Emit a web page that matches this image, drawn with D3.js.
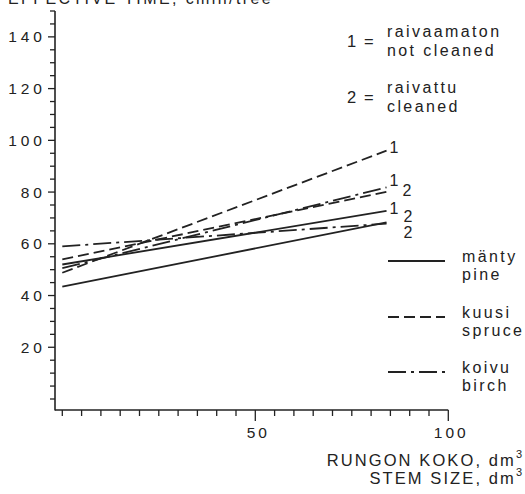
<!DOCTYPE html>
<html>
<head>
<meta charset="utf-8">
<script src="https://cdn.jsdelivr.net/npm/d3@7"></script>
<style>
  html, body { margin: 0; padding: 0; background: #fff; }
  svg { display: block; }
  text { font-family: "Liberation Sans", Arial, Helvetica, sans-serif; fill: #222; }
</style>
</head>
<body>
<svg id="chart" width="525" height="494"></svg>
<script>
// ---- data ----
const stemSize = [0, 84];                 // dm3, regression line extent
const pineNotCleaned   = [52.0, 72.7];
const pineCleaned      = [43.4, 68.3];
const spruceNotCleaned = [48.8, 96.0];
const spruceCleaned    = [54.0, 80.1];
const birchNotCleaned  = [50.6, 81.8];
const birchCleaned     = [59.0, 67.8];
const xTickLabels = [50, 100];
const yTickLabels = [20, 40, 60, 80, 100, 120, 140];
const speciesFi = ["mänty", "kuusi", "koivu"];
const speciesEn = ["pine", "spruce", "birch"];
const treatmentFi = ["raivaamaton", "raivattu"];
const treatmentEn = ["not cleaned", "cleaned"];
const yTitle = "EFFECTIVE TIME, cmin/tree";
const xTitleFi = "RUNGON KOKO, dm";
const xTitleEn = "STEM SIZE, dm";

// ---- styles ----
const ink = "#222";
const dashBySpecies = { "mänty": null, "kuusi": "11,5", "koivu": "18,5,3,5" };
const series = [
  { sp: "kuusi", tr: "1", vals: spruceNotCleaned, lx: 3,  dy: 2 },
  { sp: "koivu", tr: "1", vals: birchNotCleaned,  lx: 3,  dy: -1 },
  { sp: "kuusi", tr: "2", vals: spruceCleaned,    lx: 16, dy: 4 },
  { sp: "mänty", tr: "1", vals: pineNotCleaned,   lx: 3,  dy: 3 },
  { sp: "mänty", tr: "2", vals: pineCleaned,      lx: 17, dy: 0 },
  { sp: "koivu", tr: "2", vals: birchCleaned,     lx: 17, dy: 14 }
];

const svg = d3.select("#chart");
const x = d3.scaleLinear().domain([0, 100]).range([62.3, 448.3]);
const y = d3.scaleLinear().domain([0, 150]).range([399, 11]);

// ---- axes ----
const axisG = svg.append("g").attr("stroke", ink).attr("fill", "none");
axisG.append("line").attr("x1", 55).attr("x2", 55).attr("y1", y(150)).attr("y2", 410.5).attr("stroke-width", 1.6);
axisG.append("line").attr("x1", 55).attr("x2", x(100)).attr("y1", 410).attr("y2", 410).attr("stroke-width", 1.6);

const yMinor = d3.range(0, 151, 5);
axisG.selectAll(".yt").data(yMinor).join("line")
  .attr("x1", d => yTickLabels.includes(d) ? 48 : 50)
  .attr("x2", 55)
  .attr("y1", d => y(d)).attr("y2", d => y(d))
  .attr("stroke-width", 1.3);

const xMinor = d3.range(0, 101, 5);
axisG.selectAll(".xt").data(xMinor).join("line")
  .attr("x1", d => x(d)).attr("x2", d => x(d))
  .attr("y1", 410)
  .attr("y2", d => xTickLabels.includes(d) ? 421 : 416)
  .attr("stroke-width", 1.3);

svg.selectAll(".ylab").data(yTickLabels).join("text")
  .attr("x", 46).attr("y", d => y(d) + 5.5)
  .attr("text-anchor", "end")
  .style("font-size", "15.5px").style("letter-spacing", "4px")
  .text(d => d);

svg.selectAll(".xlab").data(xTickLabels).join("text")
  .attr("x", d => x(d) + 3).attr("y", 437.5)
  .attr("text-anchor", "middle")
  .style("font-size", "15.5px").style("letter-spacing", "3px")
  .text(d => d);

// y title (clipped at top)
svg.append("text").attr("x", 8).attr("y", 4)
  .style("font-size", "16px").style("letter-spacing", "2.4px")
  .text(yTitle);

// x titles
function titleWithCube(txt, xr, yb) {
  const t = svg.append("text").attr("x", xr).attr("y", yb).attr("text-anchor", "end")
    .style("font-size", "16.5px").style("letter-spacing", "2.1px");
  t.append("tspan").text(txt);
  t.append("tspan").attr("dy", -8).style("font-size", "11px").style("letter-spacing", "0px").text("3");
}
titleWithCube(xTitleFi, 522, 466);
titleWithCube(xTitleEn, 522, 484);

// ---- lines ----
const line = d3.line().x(d => x(d[0])).y(d => y(d[1]));
svg.selectAll(".series").data(series).join("path")
  .attr("d", s => line(stemSize.map((v, i) => [v, s.vals[i]])))
  .attr("fill", "none").attr("stroke", ink).attr("stroke-width", 1.8)
  .attr("stroke-dasharray", s => dashBySpecies[s.sp]);

svg.selectAll(".slab").data(series).join("text")
  .attr("x", s => x(stemSize[1]) + s.lx)
  .attr("y", s => y(s.vals[1]) + s.dy)
  .style("font-size", "16px")
  .text(s => s.tr);

// ---- legend: treatments ----
const trLegend = [
  { num: "1", fi: treatmentFi[0], en: treatmentEn[0], y: 36.5 },
  { num: "2", fi: treatmentFi[1], en: treatmentEn[1], y: 92.5 }
];
trLegend.forEach(d => {
  svg.append("text").attr("x", 347).attr("y", d.y + 10).style("font-size", "16.5px").text(d.num);
  svg.append("text").attr("x", 364).attr("y", d.y + 10).style("font-size", "16.5px").text("=");
  svg.append("text").attr("x", 387).attr("y", d.y).style("font-size", "16px").style("letter-spacing", "2.4px").text(d.fi);
  svg.append("text").attr("x", 387).attr("y", d.y + 19).style("font-size", "16px").style("letter-spacing", "2.4px").text(d.en);
});

// ---- legend: species ----
const spLegendY = [261, 317, 372];
speciesFi.forEach((sp, i) => {
  const yy = spLegendY[i];
  svg.append("line").attr("x1", 388).attr("x2", 445).attr("y1", yy).attr("y2", yy)
    .attr("stroke", ink).attr("stroke-width", 1.8)
    .attr("stroke-dasharray", dashBySpecies[sp]);
  svg.append("text").attr("x", 462).attr("y", yy + 1).style("font-size", "16px").style("letter-spacing", "2.4px").text(sp);
  svg.append("text").attr("x", 462).attr("y", yy + 19).style("font-size", "16px").style("letter-spacing", "2.4px").text(speciesEn[i]);
});
</script>
</body>
</html>
